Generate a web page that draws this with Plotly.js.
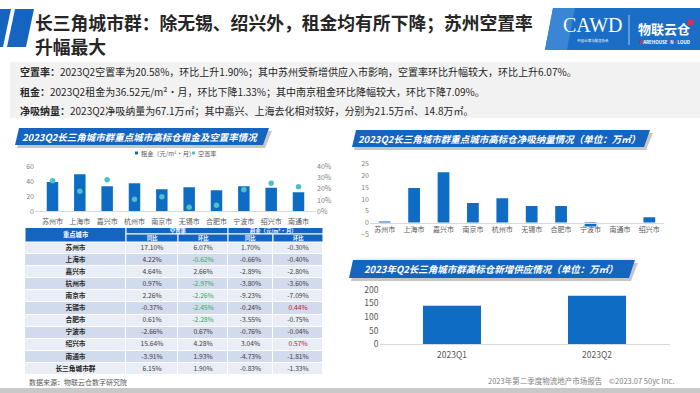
<!DOCTYPE html>
<html><head><meta charset="utf-8">
<script src="https://cdn.plot.ly/plotly-3.0.1.min.js"></script>
<style>html,body{margin:0;padding:0;background:#fff}#c{width:700px;height:393px}</style>
</head><body><div id="c"></div>
<script>
// ---------- data ----------
const cities = ['苏州市','上海市','嘉兴市','杭州市','南京市','无锡市','合肥市','宁波市','绍兴市','南通市'];
const rent = [39.4, 49.7, 33.6, 37.6, 29.6, 32.2, 28.2, 33.6, 31.8, 25.5];
const vacancy = [27.5, 17.9, 28.4, 10.7, 13.1, 3.6, 5.4, 19.4, 25.1, 22.1];

const absorbCities = ['苏州市','上海市','嘉兴市','南京市','杭州市','无锡市','合肥市','宁波市','南通市','绍兴市'];
const absorb = [0.5, 14.8, 21.5, 8.4, 10.4, 7.1, 7.1, -1.7, 0, 2.3];

const quarters = ['2023Q1','2023Q2'];
const supply = [141.5, 178];

const tableCities = ['苏州市','上海市','嘉兴市','杭州市','南京市','无锡市','合肥市','宁波市','绍兴市','南通市','长三角城市群'];
const vacYoY = ['17.10%','4.22%','4.64%','0.97%','2.26%','-0.37%','0.61%','-2.66%','15.64%','-3.91%','6.15%'];
const vacQoQ = ['6.07%','-0.62%','2.66%','-2.97%','-2.26%','-2.45%','-2.28%','0.67%','4.28%','1.93%','1.90%'];
const rentYoY = ['1.70%','-0.66%','-2.89%','-3.80%','-9.23%','-0.24%','-3.55%','-0.76%','3.04%','-4.73%','-0.83%'];
const rentQoQ = ['-0.30%','-0.40%','-2.80%','-3.60%','-7.09%','0.44%','-0.75%','-0.04%','0.57%','-1.81%','-1.33%'];

// ---------- helpers ----------
const W = 700, H = 393;
const X = p => p / W;
const Y = p => 1 - p / H;
const FONT = '"Noto Sans CJK SC","Noto Sans",sans-serif';
const BLUE = '#0f6cc4';
const BANNER = '#1565c0';
const TEAL = '#4cc2c4';

function poly(pts, fill, layer) {
  let d = 'M ' + pts.map(p => X(p[0]) + ' ' + Y(p[1])).join(' L ') + ' Z';
  return {type:'path', xref:'paper', yref:'paper', path:d, fillcolor:fill, line:{width:0}, layer: layer || 'below'};
}
function rect(x0,y0,x1,y1,fill,lineColor,layer){
  return {type:'rect', xref:'paper', yref:'paper', x0:X(x0), x1:X(x1), y0:Y(y1), y1:Y(y0),
    fillcolor:fill, line:{width:lineColor?1:0, color:lineColor||fill}, layer: layer||'below'};
}
function circ(cx,cy,r,fill){
  return {type:'circle', xref:'paper', yref:'paper', x0:X(cx-r), x1:X(cx+r), y0:Y(cy+r), y1:Y(cy-r),
    fillcolor:fill, line:{width:0}, layer:'above'};
}
function line(x0,y0,x1,y1,color,w){
  return {type:'line', xref:'paper', yref:'paper', x0:X(x0), x1:X(x1), y0:Y(y0), y1:Y(y1), line:{color:color,width:w||1}};
}
function txt(x,y,text,size,color,opts){
  return Object.assign({xref:'paper', yref:'paper', x:X(x), y:Y(y), text:text, showarrow:false,
    xanchor:'left', yanchor:'middle', font:{family:FONT, size:size, color:color}}, opts||{});
}

// ---------- traces ----------
const traces = [];
traces.push({type:'bar', x:cities, y:rent, name:'租金（元/m²·月）', marker:{color:BLUE}, width:0.42,
  xaxis:'x', yaxis:'y', hoverinfo:'skip'});
traces.push({type:'scatter', mode:'markers', x:cities, y:vacancy, name:'空置率',
  marker:{color:TEAL, size:5.5}, xaxis:'x', yaxis:'y2', hoverinfo:'skip'});
traces.push({type:'bar', x:absorbCities, y:absorb, marker:{color:BLUE}, width:0.4,
  xaxis:'x3', yaxis:'y3', hoverinfo:'skip'});
traces.push({type:'bar', x:quarters, y:supply, marker:{color:BLUE}, width:0.4,
  xaxis:'x4', yaxis:'y4', hoverinfo:'skip'});

// table as heatmap cells + text
const colWidths = [101, 52, 50, 45, 50];
const colEdges = [0];
colWidths.forEach(w => colEdges.push(colEdges[colEdges.length - 1] + w));
const colCenters = colWidths.map((w, j) => colEdges[j] + w / 2);
const nRows = tableCities.length;
const rowEdges = [];
for (let i = 0; i <= nRows; i++) rowEdges.push(i - 0.5);
const columns = [tableCities.map(c => '<b>' + c + '</b>'), vacYoY, vacQoQ, rentYoY, rentQoQ];
const z = tableCities.map((_, i) => colWidths.map(() => i % 2));
traces.push({type:'heatmap', x:colEdges, y:rowEdges, z:z, zmin:0, zmax:1,
  colorscale:[[0,'#e9edf5'],[1,'#d2daed']], showscale:false, xgap:1, ygap:1,
  xaxis:'x5', yaxis:'y5', hoverinfo:'skip'});
const dark = '#404040';
const tx = [], ty = [], tt = [], tc = [];
columns.forEach((col, j) => col.forEach((v, i) => {
  tx.push(colCenters[j]); ty.push(i); tt.push(v);
  let c = j === 0 ? '#262626' : dark;
  if (j === 2 && v.startsWith('-')) c = '#2fae5c';
  if (j === 4 && !v.startsWith('-')) c = '#c8102e';
  tc.push(c);
}));
traces.push({type:'scatter', mode:'text', x:tx, y:ty, text:tt, textposition:'middle center',
  textfont:{family:FONT, size:6.7, color:tc}, xaxis:'x5', yaxis:'y5', hoverinfo:'skip'});

// ---------- layout ----------
const tickF = {family:FONT, size:7, color:'#7f7f7f'};
const catF = {family:FONT, size:7, color:'#595959'};

const y3dom = [Y(234.3), Y(164)];
const zeroPos3 = y3dom[0] + (y3dom[1] - y3dom[0]) * (5 / 30);

// table header geometry (pixels)
const TX0 = 25, TX1 = 323;
const sx = p => TX0 + (TX1 - TX0) * p / colEdges[colEdges.length - 1];
const hdr = [
  rect(sx(colEdges[0]),227.5,sx(colEdges[1]),242,BANNER,'#ffffff','above'),
  rect(sx(colEdges[1]),227.5,sx(colEdges[3]),234,BANNER,'#ffffff','above'),
  rect(sx(colEdges[3]),227.5,sx(colEdges[5]),234,BANNER,'#ffffff','above')
];
for (let j = 1; j < 5; j++) hdr.push(rect(sx(colEdges[j]),234,sx(colEdges[j+1]),242,BANNER,'#ffffff','above'));

const shapes = [
  // title bars
  poly([[0,9],[11,9],[3,47],[0,47]], '#1565c0'),
  poly([[15,9],[34,9],[26,47],[7,47]], '#1565c0'),
  // logo
  poly([[553,8],[700,8],[700,50],[545,50]], '#1a6ec6'),
  poly([[553,8],[575,8],[567,50],[545,50]], '#3a86d4'),
  line(629,15,629,45,'rgba(255,255,255,0.8)',0.8),
  rect(688,20,693,25,'#e0303a'),
  // grey text box
  rect(10,62,700,118,'#f2f2f2'),
  // banners with shadow
  poly([[21,131],[272,131],[265,148],[17,148]], '#c6c6c6'),
  poly([[19,128],[269,128],[263,145],[15,145]], BANNER),
  poly([[358,133],[653,133],[646,150],[354,150]], '#c6c6c6'),
  poly([[356,130],[650,130],[644,147],[352,147]], BANNER),
  poly([[355,263],[638,263],[631,281],[351,281]], '#c6c6c6'),
  poly([[353,260],[635,260],[629,278],[349,278]], BANNER),
  // divider under right-top chart
  line(355,259,635,259,'#dde3ea',1),
  // legend markers
  rect(135,151.5,138,154.5,BLUE,null,'above'),
  circ(193.5,153,1.8,TEAL),
  // bottom strip
  rect(0,388,700,393,'#c9c9c9')
].concat(hdr);

const annotations = [
  txt(33,22,'<b>长三角城市群：除无锡、绍兴外，租金均有所下降；苏州空置率</b>',17.8,'#262626'),
  txt(33,46,'<b>升幅最大</b>',17.8,'#262626'),
  // logo text
  txt(593,25,'CAWD',20,'#ffffff',{xanchor:'center', font:{family:'"Liberation Serif",serif', size:20, color:'#ffffff'}}),
  txt(593,40,'中国仓储与配送协会',3.5,'#ffffff',{xanchor:'center'}),
  txt(664,29,'<b>物联云仓</b>',13,'#ffffff',{xanchor:'center'}),
  txt(664,42.5,'<b><span style="color:#e0303a">W</span>AREHOUSE <span style="color:#e0303a">I</span>N <span style="color:#e0303a">C</span>LOUD</b>',4.5,'#ffffff',{xanchor:'center'}),
  // text box
  txt(18,71.5,'<b>空置率：</b>2023Q2空置率为20.58%，环比上升1.90%；其中苏州受新增供应入市影响，空置率环比升幅较大，环比上升6.07%。',10,'#262626'),
  txt(18,91,'<b>租金：</b>2023Q2租金为36.52元/m²·月，环比下降1.33%；其中南京租金环比降幅较大，环比下降7.09%。',10,'#262626'),
  txt(18,110.5,'<b>净吸纳量：</b>2023Q2净吸纳量为67.1万㎡；其中嘉兴、上海去化相对较好，分别为21.5万㎡、14.8万㎡。',10,'#262626'),
  // banner titles
  txt(140,136.5,'<b><i>2023Q2长三角城市群重点城市高标仓租金及空置率情况</i></b>',9.5,'#ffffff',{xanchor:'center'}),
  txt(499,138.5,'<b><i>2023Q2长三角城市群重点城市高标仓净吸纳量情况（单位：万㎡）</i></b>',9.5,'#ffffff',{xanchor:'center'}),
  txt(491,269,'<b><i>2023年Q2长三角城市群高标仓新增供应情况（单位：万㎡）</i></b>',9.5,'#ffffff',{xanchor:'center'}),
  // legend texts
  txt(139.3,153,'租金（元/m²·月）',6.2,'#595959'),
  txt(196.3,153,'空置率',6.2,'#595959'),
  // table header texts
  txt(sx(colCenters[0]),234.8,'<b>重点城市</b>',6.3,'#ffffff',{xanchor:'center'}),
  txt(sx(colEdges[2]),230.8,'<b>空置率</b>',5.3,'#ffffff',{xanchor:'center'}),
  txt(sx(colEdges[4]),230.8,'<b>租金（元/m²·月）</b>',5.3,'#ffffff',{xanchor:'center'}),
  txt(sx(colCenters[1]),238,'<b>同比</b>',5.3,'#ffffff',{xanchor:'center'}),
  txt(sx(colCenters[2]),238,'<b>环比</b>',5.3,'#ffffff',{xanchor:'center'}),
  txt(sx(colCenters[3]),238,'<b>同比</b>',5.3,'#ffffff',{xanchor:'center'}),
  txt(sx(colCenters[4]),238,'<b>环比</b>',5.3,'#ffffff',{xanchor:'center'}),
  // source + footer
  txt(27,381.5,'数据来源：物联云仓数字研究院',7,'#595959'),
  txt(676,380,'2023年第二季度物流地产市场报告&nbsp;&nbsp;&nbsp;&nbsp;©2023.07 50yc Inc.',7.5,'#7f7f7f',{xanchor:'right'})
];

const layout = {
  width:W, height:H, margin:{l:0,r:0,t:0,b:0}, paper_bgcolor:'#ffffff', plot_bgcolor:'rgba(0,0,0,0)',
  font:{family:FONT},
  showlegend:false,
  xaxis:{domain:[X(35),X(316)], anchor:'y', type:'category', tickfont:catF, showline:true, linecolor:'#d9d9d9',
    ticks:'', ticklabelstandoff:3, showgrid:false, zeroline:false, fixedrange:true},
  yaxis:{domain:[Y(211.3),Y(166.7)], anchor:'x', range:[0,60], dtick:20, tickfont:tickF, showgrid:false,
    zeroline:false, ticks:'', fixedrange:true},
  yaxis2:{overlaying:'y', side:'right', anchor:'x', range:[0,40], dtick:10, ticksuffix:'%', tickfont:tickF,
    showgrid:false, zeroline:false, ticks:'', fixedrange:true},
  xaxis3:{domain:[X(370),X(664)], anchor:'free', position:zeroPos3, type:'category', tickfont:catF,
    showline:true, linecolor:'#d9d9d9', ticks:'', showgrid:false, zeroline:false, fixedrange:true},
  yaxis3:{domain:y3dom, anchor:'x3', range:[-5,25], dtick:5, tickfont:tickF, showgrid:false, zeroline:false,
    ticks:'', fixedrange:true},
  xaxis4:{domain:[X(379.5),X(669.5)], anchor:'y4', type:'category', tickfont:{family:FONT,size:8.5,color:'#595959'},
    showline:true, linecolor:'#d9d9d9', ticks:'', ticklabelstandoff:2, showgrid:false, zeroline:false, fixedrange:true},
  yaxis4:{domain:[Y(344.3),Y(289.7)], anchor:'x4', range:[0,200], dtick:50, tickfont:{family:FONT,size:8.5,color:'#595959'},
    showgrid:false, zeroline:false, ticks:'', fixedrange:true},
  xaxis5:{domain:[X(TX0),X(TX1)], anchor:'y5', range:[0, colEdges[colEdges.length-1]], visible:false, fixedrange:true},
  yaxis5:{domain:[Y(375),Y(242)], anchor:'x5', range:[nRows - 0.5, -0.5], visible:false, fixedrange:true},
  shapes:shapes,
  annotations:annotations
};

Plotly.newPlot('c', traces, layout, {displayModeBar:false, staticPlot:true});
</script></body></html>
